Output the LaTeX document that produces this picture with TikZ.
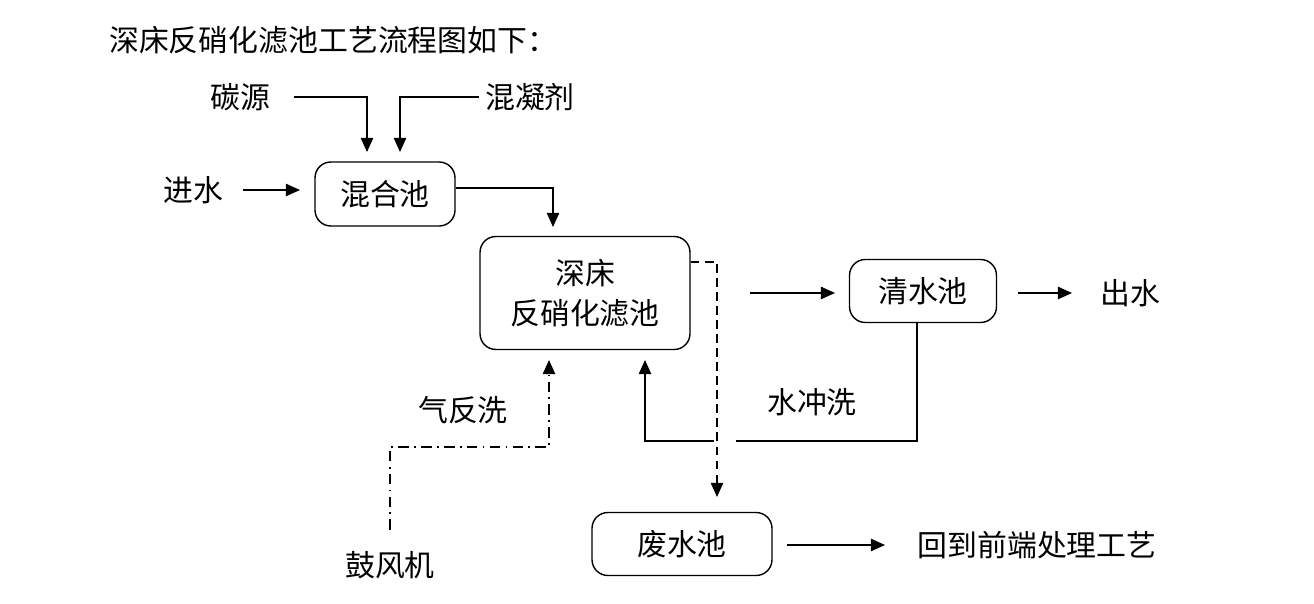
\documentclass[tikz,border=0pt]{standalone}
\usepackage{fontspec}
\newfontfamily\cjk{Noto Sans CJK SC}
\usetikzlibrary{arrows.meta}
\tikzset{
    pool/.style={draw,thick,rounded corners=9pt,align=center,font=\cjk\fontsize{17}{23}\selectfont},
    lbl/.style={font=\cjk\fontsize{17}{23}\selectfont},
    flow/.style={thick,-{Triangle[length=8pt,width=7pt]}},
    sale/.style={dash pattern=on 5pt off 3pt},
    souffle/.style={dash pattern=on 6pt off 3pt on 1pt off 3pt},
  }
\begin{document}
\begin{tikzpicture}[x=0.02cm,y=-0.02cm]
				  \useasboundingbox (0,0) rectangle (1314,604);
				  %TITRE
				  \node[lbl,anchor=west] (titre) at (103,40) {深床反硝化滤池工艺流程图如下：};
				  %BASSINS
				  \node[pool,minimum width=2.8cm,minimum height=1.28cm] (melange) at (385,194) {混合池};
				  \node[pool,minimum width=4.2cm,minimum height=2.26cm] (filtre) at (585,293) {深床\\反硝化滤池};
				  \node[pool,minimum width=2.94cm,minimum height=1.26cm] (clair) at (923,291) {清水池};
				  \node[pool,minimum width=3.6cm,minimum height=1.26cm] (dechet) at (682,544) {废水池};
				  %TEXTES
				  \node[lbl] (carbone) at (240,97) {碳源};
				  \node[lbl] (coag) at (530,97) {混凝剂};
				  \node[lbl] (entree) at (193,190) {进水};
				  \node[lbl] (sortie) at (1130,293) {出水};
				  \node[lbl] (retour) at (1037,545) {回到前端处理工艺};
				  \node[lbl] (lavage) at (812,402) {水冲洗};
				  \node[lbl] (air) at (463,410) {气反洗};
				  \node[lbl] (souffl) at (390,565) {鼓风机};
				  %ALIMENTATION
				  \draw[flow,shorten <=10pt] (carbone.east) -- (367,97) -- (367,152);
				  \draw[flow] (coag.west) -- (400,97) -- (400,152);
				  \draw[flow,shorten <=8pt] (entree.east) -- (300,190);
				  \draw[flow] (melange.east |- 0,188) -- (553,188) -- (553,227);
				  %SORTIES
				  \draw[flow] (750,293) -- (835,293);
				  \draw[flow] (1018,293) -- (1072,293);
				  \draw[flow] (787,545) -- (885,545);
				  %EAU DE LAVAGE
				  \draw[thick] (clair.south -| 917,0) -- (917,441) -- (736,441);
				  \draw[flow] (714,441) -- (645,441) -- (645,360);
				  %EAU SALE
				  \draw[flow,sale] (filtre.east |- 0,262) -- (717,262) -- (717,497);
				  %AIR
				  \draw[flow,souffle] (390,530) -- (390,447) -- (549,447) -- (549,360);
				  \end{tikzpicture}
\end{document}
